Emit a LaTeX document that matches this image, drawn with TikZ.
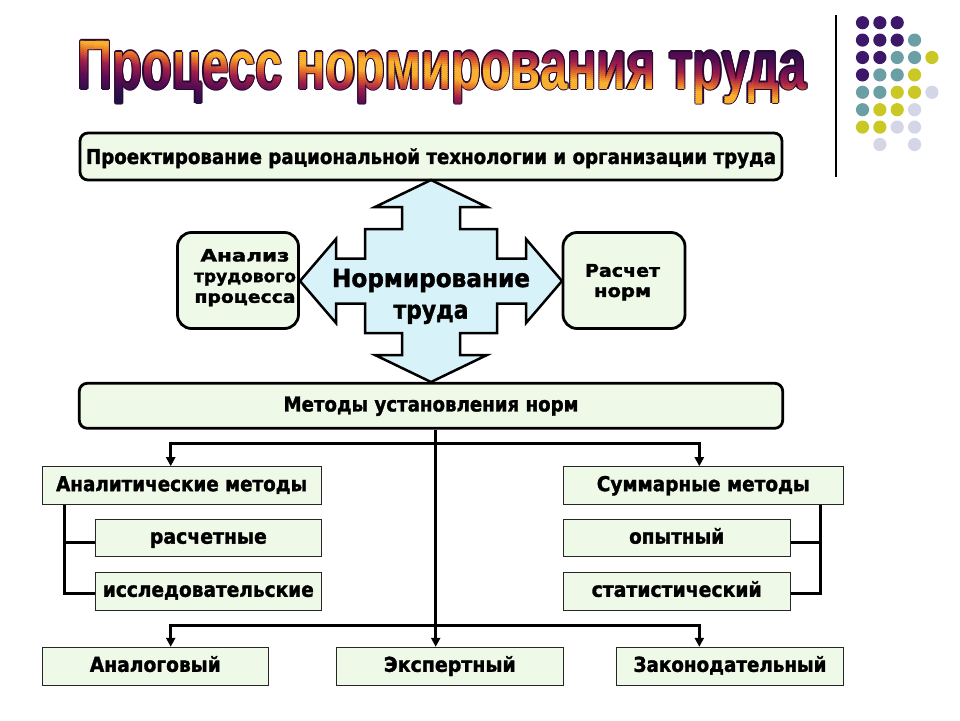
\documentclass[tikz,border=0pt]{standalone}
\usepackage{fontspec}
\setmainfont{DejaVu Sans}[BoldFeatures={FakeBold=1.6}]
\newfontfamily\ttlfont{Liberation Sans}
\usetikzlibrary{arrows.meta}
\definecolor{boxg}{HTML}{EEF9E8}
\definecolor{crossc}{HTML}{D7F3F9}
\definecolor{tO}{HTML}{F8B02E}
\definecolor{tR}{HTML}{E0662A}
\definecolor{tM}{HTML}{A3204A}
\definecolor{tP}{HTML}{5C0C52}
\definecolor{tN}{HTML}{221048}
\definecolor{tL}{HTML}{2A0830}
\definecolor{dP}{HTML}{3D1769}
\definecolor{dT}{HTML}{6B9FA6}
\definecolor{dY}{HTML}{C9C824}
\definecolor{dL}{HTML}{D5D5E8}
\newcommand\fitw[2]{\resizebox{#1pt}{\height}{#2}}
\newcommand\ttltext{\fitw{729}{\ttlfont\bfseries\fontsize{70}{70}\selectfont Процесс нормирования труда}}
\newcommand\ttlcolor[1]{%
  \pgfmathtruncatemacro\ttld{abs(#1+1.3-29.1)}%
  \ifnum\ttld<5 \def\ttlc{tO}%
  \else\ifnum\ttld<13 \pgfmathtruncatemacro\ttlp{100*(13-\ttld)/8}\edef\ttlc{tO!\ttlp!tR}%
  \else\ifnum\ttld<23 \pgfmathtruncatemacro\ttlp{100*(23-\ttld)/10}\edef\ttlc{tR!\ttlp!tM}%
  \else\ifnum\ttld<37 \pgfmathtruncatemacro\ttlp{100*(37-\ttld)/14}\edef\ttlc{tM!\ttlp!tP}%
  \else\ifnum\ttld<56 \pgfmathtruncatemacro\ttlp{100*(56-\ttld)/19}\edef\ttlc{tP!\ttlp!tN}%
  \else\def\ttlc{tN}\fi\fi\fi\fi\fi}
\begin{document}
\begin{tikzpicture}[x=1pt,y=-1pt,
  rbox/.style={draw, line width=2.8pt, fill=boxg, rounded corners=#1, inner sep=0pt},
  rbox/.default=8pt,
  sbox/.style={draw=black!85, line width=1pt, fill=boxg, inner sep=0pt},
  btext/.style={font=\fontsize{20.5}{24}\selectfont\bfseries, text height=11.3pt, text depth=0pt},
  conn/.style={line width=3pt, -{Triangle[length=9pt,width=9pt]}},
  link/.style={line width=3pt, line join=miter},
  ttl/.style={anchor=base west, inner sep=0pt}]
\fill[white] (0,0) rectangle (960,720);
\useasboundingbox (0,0) rectangle (960,720);

% title: outline then gradient strips
\foreach \dx/\dy [count=\k] in {1.2/0,-1.2/0,0/1.2,0/-1.2,0.85/0.85,-0.85/0.85,0.85/-0.85,-0.85/-0.85}
  \node[ttl, text=tL] (to\k) at (77+\dx,89+\dy) {\ttltext};
\foreach \c [count=\k] in {-48,-46,...,98} {
  \ttlcolor{\c}
  \begin{scope}
    \clip (0,\c) -- (960,\c+94.66) -- (960,\c+97.26) -- (0,\c+2.6) -- cycle;
    \node[ttl, text=\ttlc] (ts\k) at (77,89) {\ttltext};
  \end{scope}
}

% decoration dots and line
\draw[line width=1.3pt] (836,15) -- (836,177);
\foreach \i/\j/\col in {0/0/dP,1/0/dP,2/0/dP,
  0/1/dP,1/1/dP,2/1/dP,3/1/dT,
  0/2/dP,1/2/dP,2/2/dT,3/2/dT,4/2/dY,
  0/3/dP,1/3/dT,2/3/dT,3/3/dY,
  0/4/dT,1/4/dT,2/4/dY,3/4/dY,4/4/dL,
  0/5/dT,1/5/dY,2/5/dY,3/5/dL,
  0/6/dY,1/6/dY,2/6/dL,3/6/dL,
  1/7/dL,3/7/dL}
  \fill[\col] (862.5+17.35*\i,22.7+17.4*\j) circle (6.6);

% top box
\node[rbox=8pt, minimum width=702pt, minimum height=47pt,
  font=\fontsize{20.5}{24}\selectfont\bfseries, text height=14.9pt, text depth=0pt]
  (proj) at (431,156.5) {\fitw{690}{Проектирование рациональной технологии и организации труда}};

% central cross
\draw[line width=2.5pt, fill=crossc, line join=miter, shift={(431,281)}]
  (0,-101) -- (56,-74) -- (29,-74) -- (29,-52) -- (66,-52) -- (66,-22.5) -- (95,-22.5) -- (95,-42)
  -- (131,0) -- (95,42) -- (95,22.5) -- (66,22.5) -- (66,52) -- (29,52) -- (29,74) -- (56,74)
  -- (0,101) -- (-56,74) -- (-29,74) -- (-29,52) -- (-66,52) -- (-66,22.5) -- (-95,22.5) -- (-95,42)
  -- (-131,0) -- (-95,-42) -- (-95,-22.5) -- (-66,-22.5) -- (-66,-52) -- (-29,-52) -- (-29,-74) -- (-56,-74) -- cycle;
\node[inner sep=0pt, align=center, font=\fontsize{25}{31.6}\selectfont\bfseries]
  (norm) at (431,296.4) {\fitw{198}{Нормирование}\\\fitw{75}{труда}};

% side boxes
\node[rbox=14pt, minimum width=121pt, minimum height=96pt] (anbox) at (238,280.5) {};
\node[inner sep=0pt, align=center, font=\fontsize{17}{20.65}\selectfont\bfseries]
  (antext) at (245,277.7) {\fitw{89}{Анализ}\\\fitw{102}{трудового}\\\fitw{101}{процесса}};
\node[rbox=14pt, minimum width=122pt, minimum height=96pt] (rnbox) at (624,280.5) {};
\node[inner sep=0pt, align=center, font=\fontsize{17.5}{20.2}\selectfont\bfseries]
  (rntext) at (622.5,282.3) {\fitw{75}{Расчет}\\\fitw{57}{норм}};

% methods box
\node[rbox=8pt, minimum width=703.4pt, minimum height=45pt, btext] (methods) at (431,405.8)
  {\fitw{295}{Методы установления норм}};

% small boxes
\node[sbox, btext, minimum width=278.7pt, minimum height=37.6pt] (analit) at (181.65,485.5) {\fitw{251}{Аналитические методы}};
\node[sbox, btext, minimum width=225.3pt, minimum height=37.4pt] (rschet) at (208.35,538) {\fitw{117}{расчетные}};
\node[sbox, btext, minimum width=225.3pt, minimum height=37.7pt] (issl) at (208.35,591.15) {\fitw{211}{исследовательские}};
\node[sbox, btext, minimum width=226pt, minimum height=37.7pt] (analog) at (155.3,666.15) {\fitw{131}{Аналоговый}};
\node[sbox, btext, minimum width=227pt, minimum height=37.7pt] (eksp) at (449.8,666.15) {\fitw{132}{Экспертный}};
\node[sbox, btext, minimum width=280pt, minimum height=37.6pt] (summ) at (703.3,485.5) {\fitw{213}{Суммарные методы}};
\node[sbox, btext, minimum width=226.7pt, minimum height=37.4pt] (opyt) at (676.65,538) {\fitw{95}{опытный}};
\node[sbox, btext, minimum width=226.7pt, minimum height=37.7pt] (stat) at (676.65,591.15) {\fitw{170}{статистический}};
\node[sbox, btext, minimum width=226.6pt, minimum height=37.7pt] (zakon) at (730,666.15) {\fitw{193}{Законодательный}};

% connectors
\coordinate (j1) at (435.7,443.3);
\coordinate (j2) at (435.7,625);
\coordinate (aL) at (170.7,0);
\coordinate (aR) at (699.3,0);
\coordinate (bL) at (64.3,0);
\coordinate (bR) at (820,0);
\coordinate (r1) at (0,542.3);
\coordinate (r2) at (0,593.3);
\draw[conn] (methods.south -| j1) -- (j1 |- eksp.north);
\draw[conn] (j1) -| (aL |- analit.north);
\draw[conn] (j1) -| (aR |- summ.north);
\draw[conn] (j2) -| (aL |- analog.north);
\draw[conn] (j2) -| (aR |- zakon.north);
\draw[link] (bL |- analit.south) -- (bL |- r2) -- (issl.west |- r2);
\draw[link] (bL |- r1) -- (rschet.west |- r1);
\draw[link] (bR |- summ.south) -- (bR |- r2) -- (stat.east |- r2);
\draw[link] (bR |- r1) -- (opyt.east |- r1);
\end{tikzpicture}
\end{document}
